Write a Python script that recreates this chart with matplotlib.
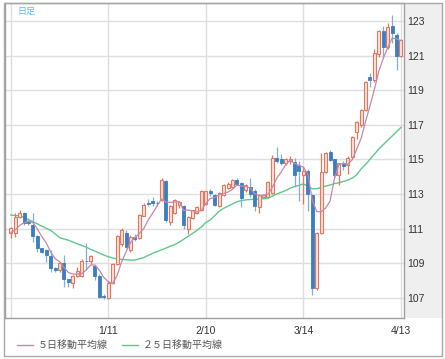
import matplotlib
matplotlib.use("Agg")
import matplotlib.pyplot as plt
from matplotlib.patches import Rectangle
import numpy as np

# ---------------- data ----------------
opens = [110.76, 110.76, 111.69, 111.88, 111.40, 111.18, 110.57, 109.86, 109.76, 109.42,
         108.70, 108.60, 109.00, 108.07, 107.84, 108.26, 108.26, 109.15, 109.10, 108.84,
         108.26, 107.10, 106.97, 107.87, 108.95, 110.10, 110.77, 109.76, 110.50, 110.44,
         111.73, 112.50, 112.60, 112.50, 112.65, 113.77, 111.40, 111.90, 112.35, 112.30,
         111.00, 111.60, 111.90, 112.10, 112.40, 113.15, 112.93, 112.30, 112.95, 113.35,
         113.40, 113.80, 113.65, 113.25, 113.40, 113.20, 112.27, 112.85, 112.80, 113.05,
         115.10, 115.05, 114.77, 114.90, 114.85, 114.70, 114.10, 114.30, 112.94, 107.55,
         110.73, 114.29, 115.44, 115.00, 114.10, 114.77, 114.70, 115.15, 116.60, 117.00,
         117.86, 119.75, 119.60, 121.10, 122.40, 121.50, 122.70, 122.20, 120.95]
highs = [111.10, 111.90, 112.10, 111.95, 111.50, 111.92, 110.60, 109.90, 109.80, 109.76,
         108.75, 109.05, 109.47, 108.10, 108.30, 108.80, 109.22, 110.15, 109.50, 108.90,
         108.40, 107.20, 107.95, 109.00, 110.60, 111.03, 110.90, 110.60, 110.70, 111.85,
         112.45, 112.70, 112.80, 112.60, 113.90, 113.80, 112.35, 112.70, 112.60, 112.35,
         111.70, 112.10, 112.30, 113.23, 113.20, 113.30, 113.00, 113.10, 113.60, 113.70,
         113.85, 113.95, 113.70, 113.55, 113.90, 113.30, 113.00, 113.00, 113.75, 115.25,
         115.70, 115.30, 115.10, 115.20, 115.10, 114.90, 114.58, 114.45, 113.00, 110.82,
         115.37, 115.40, 115.55, 115.05, 114.80, 114.90, 115.20, 116.35, 117.20, 117.90,
         119.55, 120.00, 121.40, 122.50, 122.70, 122.90, 123.35, 122.30, 121.95]
lows = [110.44, 110.53, 111.60, 111.20, 111.20, 110.24, 109.67, 109.60, 109.09, 108.51,
        108.50, 108.50, 107.60, 107.64, 107.55, 108.20, 108.20, 108.60, 108.95, 108.03,
        106.97, 106.90, 106.95, 107.80, 108.90, 110.00, 109.90, 109.65, 110.30, 110.40,
        111.70, 112.30, 112.30, 112.30, 112.60, 111.38, 111.20, 111.85, 112.20, 110.95,
        110.70, 111.55, 111.85, 112.00, 112.35, 112.90, 112.30, 112.25, 112.90, 113.30,
        113.35, 113.50, 112.27, 113.10, 112.85, 112.00, 111.90, 112.80, 112.75, 113.00,
        114.80, 114.70, 114.70, 114.75, 113.40, 112.60, 112.40, 112.00, 107.16, 107.45,
        110.70, 114.20, 114.90, 113.93, 113.50, 114.40, 114.15, 115.00, 116.20, 116.90,
        117.80, 119.20, 119.50, 120.90, 120.84, 121.40, 121.73, 120.17, 120.90]
closes = [111.02, 111.69, 111.88, 111.30, 111.30, 110.57, 109.86, 109.67, 109.47, 108.70,
          108.60, 109.00, 108.07, 107.93, 108.26, 108.57, 109.13, 109.10, 109.40, 108.26,
          107.06, 107.03, 107.87, 108.95, 110.57, 110.92, 109.96, 110.53, 110.38, 111.79,
          112.36, 112.42, 112.50, 112.45, 113.80, 111.50, 112.30, 112.65, 112.55, 111.20,
          111.65, 112.08, 112.27, 113.15, 113.15, 113.05, 112.36, 113.05, 113.52, 113.60,
          113.80, 113.60, 112.75, 113.50, 113.00, 112.30, 112.94, 112.95, 113.70, 115.06,
          114.90, 114.77, 115.00, 115.05, 114.10, 114.30, 114.30, 113.00, 107.55, 110.73,
          114.29, 115.35, 114.97, 114.10, 114.77, 114.60, 115.10, 116.30, 117.15, 117.85,
          119.50, 119.60, 121.15, 122.40, 121.50, 122.67, 122.30, 120.95, 121.90]
# closes of the 4 sessions before the first visible candle (for the 5-day average)
prior_closes = [110.90, 110.60, 110.50, 110.80]
# 25-day moving average
ma25 = [111.78, 111.76, 111.73, 111.65, 111.52, 111.40, 111.27, 111.14, 111.02, 110.90,
        110.70, 110.48, 110.40, 110.33, 110.22, 110.12, 110.02, 109.93, 109.80, 109.70,
        109.58, 109.47, 109.37, 109.30, 109.25, 109.22, 109.20, 109.18, 109.18, 109.25,
        109.33, 109.45, 109.57, 109.67, 109.77, 109.87, 109.98, 110.08, 110.22, 110.38,
        110.55, 110.72, 110.90, 111.10, 111.35, 111.50, 111.75, 112.00, 112.17, 112.30,
        112.42, 112.55, 112.62, 112.66, 112.68, 112.69, 112.70, 112.72, 112.76, 112.88,
        113.00, 113.10, 113.20, 113.33, 113.43, 113.50, 113.58, 113.45, 113.30, 113.30,
        113.38, 113.45, 113.52, 113.60, 113.65, 113.72, 113.80, 113.92, 114.10, 114.45,
        114.70, 115.00, 115.30, 115.60, 115.85, 116.10, 116.35, 116.60, 116.85]
date_tick_pos = [0, 22, 44, 66, 88]
date_tick_labels = ["", "1/11", "2/10", "3/14", "4/13"]
price_ticks = [107, 109, 111, 113, 115, 117, 119, 121, 123]
legend_labels = ["５日移動平均線", "２５日移動平均線"]
corner_label = "日足"

# ---------------- figure ----------------
W, H = 445, 359
fig = plt.figure(figsize=(W / 100, H / 100), dpi=100)
fig.patch.set_facecolor("white")

def fx(px):
    return px / W

def fy(py):
    return 1 - py / H

# right gray panel and outer frame
fig.add_artist(Rectangle((fx(404), fy(318)), fx(442) - fx(404), fy(3) - fy(318),
                         transform=fig.transFigure, facecolor="#efefef", edgecolor="none", zorder=0))
fig.add_artist(Rectangle((fx(4), fy(356)), fx(442) - fx(4), fy(3) - fy(356),
                         transform=fig.transFigure, facecolor="none", edgecolor="#a8a8a8",
                         linewidth=1.0, zorder=5))

ax = fig.add_axes([fx(5), fy(318), fx(404) - fx(5), fy(3) - fy(318)])
ax.set_facecolor("white")

o = np.array(opens); h = np.array(highs); l = np.array(lows); c = np.array(closes)
n = len(c)
x = np.arange(n)
up = c >= o

all_close = np.concatenate([prior_closes, c])
ma5 = np.convolve(all_close, np.ones(5) / 5, mode="valid")

ax.plot(x, ma25, color="#5dc98c", lw=1.0, zorder=2)

up_edge = "#e5775d"
up_face = "#fbe1da"
dn_col = "#3b7fc0"
dn_wick = "#7fb0dc"

ax.vlines(x[up], l[up], h[up], color=up_edge, lw=0.9, zorder=3)
ax.vlines(x[~up], l[~up], h[~up], color=dn_wick, lw=0.9, zorder=3)
bw = 0.68
body_lo = np.minimum(o, c)
body_h = np.maximum(np.abs(c - o), 0.04)
ax.bar(x[up], body_h[up], bw, bottom=body_lo[up], facecolor=up_face,
       edgecolor=up_edge, linewidth=0.8, zorder=4)
ax.bar(x[~up], body_h[~up], bw, bottom=body_lo[~up], facecolor=dn_col,
       edgecolor=dn_col, linewidth=0.6, zorder=4)

ax.plot(x, ma5, color="#c987aa", lw=0.9, zorder=5)

# axes limits
ax.set_xlim(-1.29, 88.68)
ax.set_ylim(105.83, 124.04)

ax.set_xticks(date_tick_pos)
ax.set_xticklabels(date_tick_labels, fontsize=7.5, color="#333333", family="Liberation Sans")
ax.set_yticks(price_ticks)
ax.yaxis.tick_right()
ax.set_yticklabels([str(v) for v in price_ticks], fontsize=7.5, color="#333333",
                   family="Liberation Sans")
ax.tick_params(axis="y", length=0, pad=2)
ax.tick_params(axis="x", length=0, pad=6)
ax.grid(True, color="#dedede", linewidth=1.0, zorder=0)
ax.set_axisbelow(True)
for sp in ax.spines.values():
    sp.set_color("#a0a0a0")
    sp.set_linewidth(1.0)

# corner label
fig.text(fx(17), fy(11), corner_label, fontsize=6.5, color="#55bde9",
         family=["Noto Sans CJK JP", "DejaVu Sans"], va="center", ha="left")

# legend (drawn manually)
ly = fy(345)
fig.add_artist(plt.Line2D([fx(17), fx(33)], [ly, ly], color="#c987aa", lw=1.0,
                          transform=fig.transFigure))
fig.text(fx(38), ly, legend_labels[0], fontsize=7.2, color="#555555",
         family=["Noto Sans CJK JP", "DejaVu Sans"], va="center", ha="left")
fig.add_artist(plt.Line2D([fx(122), fx(138)], [ly, ly], color="#5dc98c", lw=1.0,
                          transform=fig.transFigure))
fig.text(fx(143), ly, legend_labels[1], fontsize=7.2, color="#555555",
         family=["Noto Sans CJK JP", "DejaVu Sans"], va="center", ha="left")

fig.savefig("out.png", dpi=100)
